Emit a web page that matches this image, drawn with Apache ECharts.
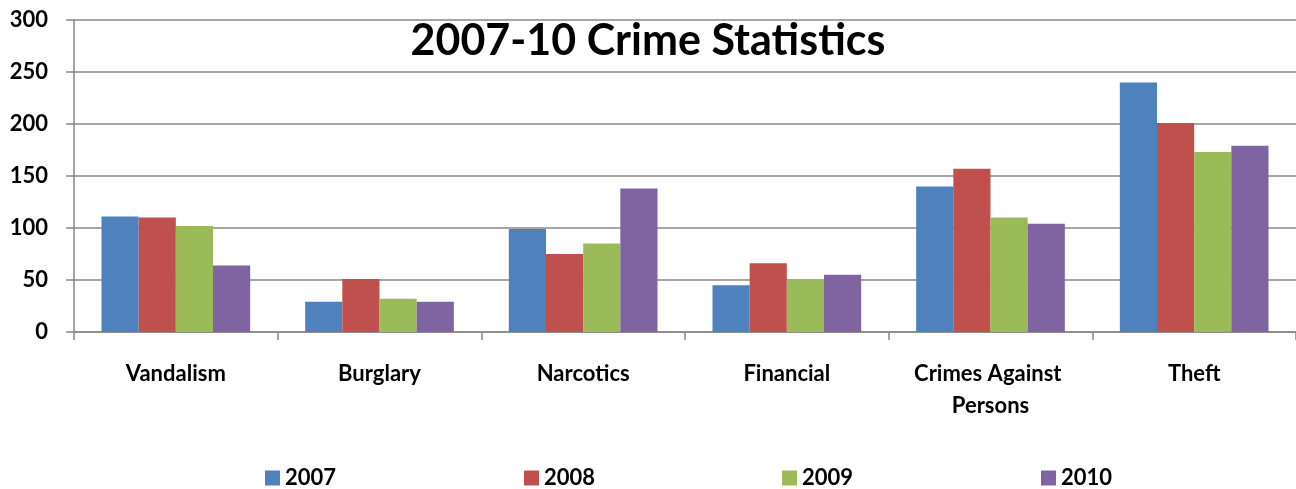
<!DOCTYPE html>
<html>
<head>
<meta charset="utf-8">
<script src="https://cdn.jsdelivr.net/npm/echarts@6/dist/echarts.min.js"></script>
<style>
  html, body { margin: 0; padding: 0; background: #fff; }
  #main { width: 1296px; height: 489px; }
</style>
</head>
<body>
<div id="main"></div>
<script>
var categories = ['Vandalism', 'Burglary', 'Narcotics', 'Financial', 'Crimes Against Persons', 'Theft'];
var years = ['2007', '2008', '2009', '2010'];
var v2007 = [111, 29, 99, 45, 140, 240];
var v2008 = [110, 51, 75, 66, 157, 201];
var v2009 = [102, 32, 85, 51, 110, 173];
var v2010 = [64, 29, 138, 55, 104, 179];
var yTicks = [0, 50, 100, 150, 200, 250, 300];

var colors = ['#4F81BD', '#C0504D', '#9BBB59', '#8064A2'];
var font = 'Lato, "Open Sans", sans-serif';

var myChart = echarts.init(document.getElementById('main'));

var values = [v2007, v2008, v2009, v2010];
var legendX = [260, 519, 777, 1036];

var option = {
    color: colors,
    animation: false,
    title: {
        text: '2007-10 Crime Statistics',
        left: 'center',
        top: 15,
        textStyle: { fontFamily: font, fontSize: 43, fontWeight: 'bold', color: '#000' }
    },
    legend: years.map(function (y, i) {
        return {
            data: [y],
            left: legendX[i],
            top: 462,
            itemWidth: 15,
            itemHeight: 15,
            itemGap: 0,
            icon: 'rect',
            textStyle: { fontFamily: font, fontSize: 22, fontWeight: 'bold', color: '#000' }
        };
    }),
    grid: { left: 74, right: 0, top: 20, bottom: 157 },
    xAxis: {
        type: 'category',
        data: categories,
        axisLine: { lineStyle: { color: '#888', width: 1.5 } },
        axisTick: { show: true, length: 8, lineStyle: { color: '#888', width: 1.5 } },
        axisLabel: {
            interval: 0,
            margin: 26,
            color: '#000',
            fontFamily: font,
            fontSize: 22,
            fontWeight: 'bold',
            lineHeight: 32,
            width: 190,
            overflow: 'break'
        }
    },
    yAxis: {
        type: 'value',
        min: 0,
        max: 300,
        interval: 50,
        axisLine: { show: true, lineStyle: { color: '#888', width: 1.5 } },
        axisTick: { show: true, length: 8, lineStyle: { color: '#888', width: 1.5 } },
        splitLine: { lineStyle: { color: '#888', width: 1.5 } },
        axisLabel: {
            margin: 26,
            color: '#000',
            fontFamily: font,
            fontSize: 22,
            fontWeight: 'bold',
            formatter: function (v) { return yTicks.indexOf(v) >= 0 ? String(v) : ''; }
        }
    },
    series: years.map(function (y, i) {
        return {
            name: y,
            type: 'bar',
            data: values[i],
            barGap: '0%',
            barCategoryGap: '27%'
        };
    })
};

myChart.setOption(option);
</script>
</body>
</html>
